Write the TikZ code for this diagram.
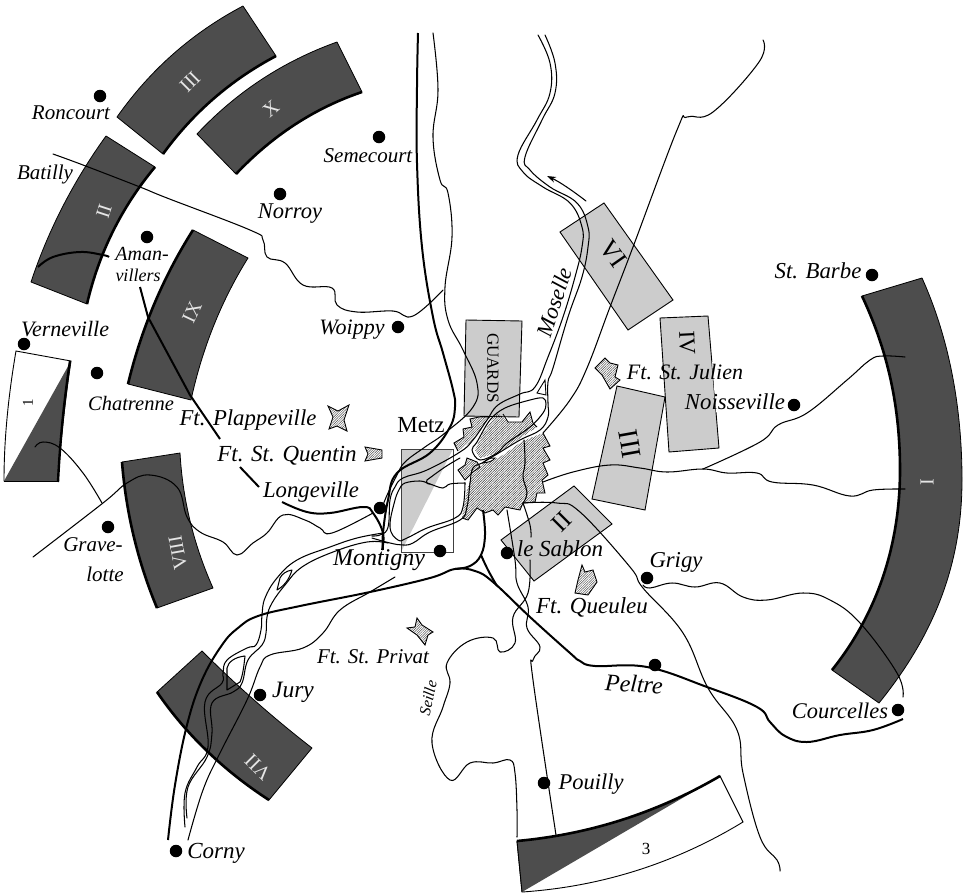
\documentclass[tikz,border=0pt]{standalone}
\usepackage{fontspec}
\setmainfont{Liberation Serif}
\usetikzlibrary{patterns.meta,arrows.meta,calc}
\definecolor{darkband}{HTML}{4D4D4D}
\definecolor{lightbox}{HTML}{CCCCCC}
\tikzset{
  band/.style={fill=darkband,draw=black,line width=.8pt,line join=round},
  bandedge/.style={draw=black,line width=2.6pt},
  lbox/.style={fill=lightbox,draw=black,line width=.9pt},
  hatch/.style={pattern={Lines[angle=45,distance=1.7pt,line width=.45pt]},pattern color=black!80},
  star/.style={pattern={Lines[angle=45,distance=1.7pt,line width=.45pt]},pattern color=black!70,draw=black,line width=.9pt,line join=miter},
  water/.style={draw=black,line width=1.05pt,line cap=round,line join=round},
  road/.style={draw=black,line width=2pt,line cap=butt,line join=round},
  town/.style={circle,fill=black,inner sep=0pt,minimum size=12.5pt},
  place/.style={font=\fontsize{#1}{#1}\selectfont\itshape,inner sep=0pt,text=black},
  place/.default=21,
  numw/.style={font=\fontsize{20}{20}\selectfont,text=white!90!black,inner sep=0pt},
  numb/.style={font=\fontsize{#1}{#1}\selectfont,text=black,inner sep=0pt},
}
\newcommand{\smoothline}[2][water]{\draw[#1] plot[smooth,tension=.68] coordinates {#2};}
% quadratic arc: start, control, end
\newcommand{\qc}[3]{.. controls ($(#1)!.6667!(#2)$) and ($(#3)!.6667!(#2)$) .. (#3)}
\begin{document}
\begin{tikzpicture}[x=1pt,y=-1pt]
\useasboundingbox (0,0) rectangle (970,895);
% dark corps bands
\path[band] (117,117) \qc{117,117}{167,46}{243,6} -- (276,56) \qc{276,56}{208,92}{163,154} -- cycle;
\draw[bandedge] (276,56) \qc{276,56}{208,92}{163,154};
\path[band] (197,134) \qc{197,134}{256,71}{337,42} -- (362,92) \qc{362,92}{291,116}{236,174} -- cycle;
\draw[bandedge] (362,92) \qc{362,92}{291,116}{236,174};
\path[band] (31,282) \qc{31,282}{57,204}{106,136} -- (155,167) \qc{155,167}{105,227}{87,304} -- cycle;
\draw[bandedge] (155,167) \qc{155,167}{105,227}{87,304};
\path[band] (193,230) -- (248,258) \qc{248,258}{208,322}{191,400} -- (128,384) \qc{128,384}{148,301}{193,230} -- cycle;
\draw[bandedge] (128,384) \qc{128,384}{148,301}{193,230};
\path[band] (122,462) -- (180,453) \qc{180,453}{184,523}{213,588} -- (157,608) \qc{157,608}{128,538}{122,462} -- cycle;
\draw[bandedge] (157,608) \qc{157,608}{128,538}{122,462};
\path[band] (157,692) -- (202,651) \qc{202,651}{254,703}{312,748} -- (269,800) \qc{269,800}{201,756}{157,692} -- cycle;
\draw[bandedge] (269,800) \qc{269,800}{201,756}{157,692};
\path[band] (922,278) .. controls (950,340) and (962,410) .. (962,480) .. controls (962,570) and (930,640) .. (879,703) -- (832,670) .. controls (880,610) and (900,540) .. (900,470) .. controls (900,400) and (885,345) .. (862,296) -- cycle;
\draw[bandedge] (832,670) .. controls (880,610) and (900,540) .. (900,470) .. controls (900,400) and (885,345) .. (862,296);
% legend bands
\path[fill=white,draw=black,line width=.9pt] (16,351) -- (71,361) \qc{71,361}{62,421}{58,481} -- (4,481) \qc{4,481}{4,421}{16,351} -- cycle;
\fill[darkband] (71,361) \qc{71,361}{62,421}{58,481} -- (4,481) -- cycle;
\draw[black,line width=.9pt] (4,481) -- (58,481);
\draw[bandedge,line width=2.4pt] (70,361) \qc{70,361}{61,421}{58,482};
\path[fill=white,draw=black,line width=.9pt] (517,841) \qc{517,841}{626,831}{720,776} -- (743,822) \qc{743,822}{641,884}{522,892} -- cycle;
\fill[darkband] (517,841) \qc{517,841}{626,831}{720,776} -- (522,892) -- cycle;
\draw[black,line width=.9pt] (517,841) -- (522,892);
\draw[bandedge] (517,841) \qc{517,841}{626,831}{720,776};
% light boxes
\path[lbox] (466,320) -- (522,321) -- (519,417) -- (464,416) -- cycle;
\path[lbox] (560,232) -- (604,203) -- (673,300) -- (628,330) -- cycle;
\path[lbox] (660,318) -- (708,316) -- (719,448) -- (669,452) -- cycle;
\path[lbox] (617,386) -- (665,397) -- (645,510) -- (592,499) -- cycle;
\path[lbox] (501,540) -- (574,486) -- (612,524) -- (534,581) -- cycle;
\fill[white] (712,362) -- (720,362) -- (720,412) -- (716,412) -- cycle;
% Metz box
\fill[lightbox] (401,449) -- (453,449) -- (401,552) -- cycle;
\draw[black!75,line width=1pt] (401,449) rectangle (453,552);
% city hatching
\path[hatch] (479,417) -- (470,419) -- (472,427) -- (463,429) -- (464,437) -- (454,443) -- (458,451) -- (472,441) -- (490,417) -- cycle;
\draw[black,line width=.9pt] (490,417) -- (479,417) -- (470,419) -- (472,427) -- (463,429) -- (464,437) -- (454,443) -- (458,451);
\path[hatch] (503,417) -- (508,422) -- (522,422) -- (530,412) -- (533,423) -- (537,427) -- (513,443) -- (497,453) -- (480,458) -- (475,450) -- (483,433) -- (497,413) -- cycle;
\draw[black,line width=.9pt] (503,414) -- (508,422) -- (522,422) -- (530,412) -- (533,423) -- (537,427);
\path[hatch] (543,433) -- (550,446) -- (543,448) -- (550,460) -- (543,463) -- (548,475) -- (542,480) -- (545,493) -- (537,493) -- (535,502) -- (523,503) -- (520,510) -- (510,508) -- (505,507) -- (498,515) -- (493,510) -- (485,513) -- (477,508) -- (468,520) -- (462,518) -- (467,490) -- (473,473) -- (483,464) -- (500,457) -- (523,441) -- cycle;
\draw[black,line width=.9pt] (543,433) -- (550,446) -- (543,448) -- (550,460) -- (543,463) -- (548,475) -- (542,480) -- (545,493) -- (537,493) -- (535,502) -- (523,503) -- (520,510) -- (510,508) -- (505,507) -- (498,515) -- (493,510) -- (485,513) -- (477,508) -- (468,520) -- (462,518);
\path[hatch,draw=black,line width=.9pt] (467,458) -- (477,462) -- (480,467) -- (473,472) -- (465,480) -- (458,470) -- (465,465) -- cycle;
\path[fill=white,draw=black,line width=.9pt] (483,463) .. controls (488,458) and (490,458) .. (495,458) .. controls (492,462) and (488,462) .. (483,463) -- cycle;
\path[fill=white,draw=black,line width=.9pt] (537,393) -- (545,380) -- (546,395) -- cycle;
\smoothline{(524,440)(525,463)(523,477)(527,493)(523,503)}
% Moselle, north
\smoothline{(538,35)(550,63)(550,93)(537,120)(518,155)(523,172)(543,187)(570,203)(582,227)(582,247)(575,277)(563,317)(548,357)(535,387)(520,394)(498,405)(487,420)(473,440)(460,452)(427,470)(403,478)(395,487)(390,500)(387,530)(372,536)}
\smoothline{(545,35)(555,63)(555,93)(542,120)(525,157)(530,170)(550,187)(577,203)(588,227)(588,247)(582,277)(568,317)(553,368)(548,382)(548,403)(548,417)(540,430)(520,440)(497,454)(482,463)(473,468)(470,483)(467,507)(460,520)(430,532)(413,543)(403,545)(390,543)(372,538)}
\draw[water] plot[smooth cycle,tension=.6] coordinates {(543,398)(530,400)(505,408)(490,420)(477,442)(472,450)(480,460)(497,453)(507,443)(530,427)(543,413)(546,404)};
\smoothline{(400,488)(405,483)(420,481)(430,484)(443,488)(450,484)(465,483)}
\smoothline{(427,480)(445,467)(460,458)}
\draw[water] (427,480) .. controls (426,483) and (427,484) .. (430,484);
\smoothline{(400,488)(395,500)(390,527)(398,540)(407,538)(427,528)(455,518)(463,507)(465,483)}
% Moselle, south
\smoothline{(383,533)(357,538)(330,547)(297,560)(277,578)(265,598)(262,615)(261,630)(256,645)(247,648)(227,660)(223,673)(222,683)(205,702)(208,747)(197,767)(185,793)(185,827)}
\smoothline{(388,543)(367,542)(333,552)(302,567)(285,585)(272,603)(267,617)(266,633)(262,645)(248,660)(242,683)(233,692)(212,703)(212,733)(207,757)(188,787)(187,818)}
\draw[water] (245,656) .. controls (235,657) and (228,662) .. (227,668) -- (227,690) -- (240,682) .. controls (243,675) and (244,665) .. (245,656) -- cycle;
\draw[water] (292,570) .. controls (286,571) and (282,574) .. (280,578) -- (277,590) .. controls (284,586) and (289,580) .. (292,570) -- cycle;
% thin streams
\smoothline{(53,154)(83,165)(140,187)(167,198)(250,230)(263,240)(267,257)(285,263)(303,285)(332,288)(337,305)(357,312)(393,311)(413,316)(443,290)}
\smoothline{(433,33)(438,90)(433,137)(440,180)(448,193)(452,237)(445,287)(448,320)(463,350)(477,383)(473,407)(445,433)(425,447)(405,462)(397,475)(388,493)(383,505)}
\smoothline{(373,513)(332,533)(320,528)(305,520)(283,515)(267,533)(253,543)(237,555)(223,542)(200,532)(187,517)(177,487)(150,475)(127,483)(103,503)(33,557)}
\smoothline{(102,503)(83,473)(60,448)(43,442)(35,447)}
\smoothline{(395,577)(370,592)(340,610)(323,633)(303,648)(270,655)(260,667)(247,700)(220,753)(203,790)(188,840)}
\smoothline{(763,40)(759,62)(713,112)(687,117)(677,130)(633,247)(610,307)(587,368)(570,400)(543,433)}
\smoothline{(905,357)(883,356)(870,360)(847,380)(807,413)(778,425)(760,442)(703,469)}
\smoothline{(905,489)(873,490)(850,496)(813,485)(772,482)(757,473)(727,473)(703,469)(667,472)(640,468)(610,465)(573,472)(543,482)}
\smoothline{(903,697)(897,673)(860,623)(830,600)(803,593)(767,600)(743,597)(720,583)(695,587)(672,583)(650,588)(643,585)}
\smoothline{(523,503)(557,503)(580,512)(630,567)(643,588)(683,633)(708,688)(737,730)(743,773)(760,837)(777,860)(780,871)}
\smoothline{(507,510)(515,560)(517,583)(528,607)(527,628)(540,647)(533,660)(533,680)(556,835)}
\smoothline{(530,560)(528,593)(513,617)(515,643)(500,652)(493,638)(467,642)(447,663)(450,683)(443,707)(432,743)(450,780)(470,763)(493,763)(510,760)(515,773)(517,810)(517,837)}
\smoothline{(523,503)(530,525)(531,537)}
% roads
\smoothline[road]{(418,33)(417,87)(417,163)(422,247)(433,317)(443,353)(453,390)(455,407)(450,427)(430,453)(397,473)(388,500)(383,533)(383,550)}
\smoothline[road]{(168,840)(175,785)(187,725)(202,680)(222,645)(238,628)(258,616)(300,606)(370,592)(430,578)(455,569)(475,571)(493,582)(530,617)(570,653)(580,661)(595,666)(647,667)(707,687)(757,707)(770,722)(785,736)(807,742)(840,735)(873,730)(903,719)}
\smoothline[road]{(483,510)(485,535)(481,555)(470,566)(455,569)}
\smoothline[road]{(481,555)(488,570)(497,586)}
\smoothline[road]{(282,502)(307,512)(330,513)(363,507)(373,513)(383,533)(382,550)}
\draw[road] (240,467) -- (259,487);
\draw[road] (140,287) -- (148,317) -- (190,395) -- (220,439);
\smoothline[road]{(38,267)(53,257)(80,252)(103,255)(109,257)}
% Moselle arrow
\draw[water,-{Stealth[length=9pt,width=6pt]}] (586,201) .. controls (573,191) and (560,182) .. (547,176);
% forts
\path[star] (595,368) -- (605,358) -- (610,363) -- (618,365) -- (615,377) -- (620,380) -- (610,389) -- (602,375) -- cycle;
\path[star] (328,406) -- (338,411) -- (349,405) -- (344,420) -- (347,431) -- (337,426) -- (329,429) -- (333,417) -- cycle;
\path[star] (365,447) -- (382,450) -- (382,458) -- (365,461) -- (368,454) -- cycle;
\path[star] (582,565) -- (585,572) -- (593,570) -- (597,582) -- (588,595) -- (575,593) -- (578,580) -- cycle;
\path[star] (417,618) -- (422,625) -- (433,632) -- (428,635) -- (425,645) -- (417,635) -- (407,628) -- (415,627) -- cycle;
% towns
\node[town] (dRoncourt) at (100,96) {};
\node[town] (dSemecourt) at (379,137) {};
\node[town] (dNorroy) at (280,194) {};
\node[town] (dAman) at (147,237) {};
\node[town] (dVerneville) at (24,344) {};
\node[town] (dChatrenne) at (97,373) {};
\node[town] (dGravelotte) at (108,527) {};
\node[town] (dWoippy) at (398,327) {};
\node[town] (dLongeville) at (380,508) {};
\node[town] (dMontigny) at (440,551) {};
\node[town] (dSablon) at (507,553) {};
\node[town] (dGrigy) at (647,578) {};
\node[town] (dJury) at (260,695) {};
\node[town] (dPeltre) at (655,665) {};
\node[town] (dCourcelles) at (898,710) {};
\node[town] (dCorny) at (176,851) {};
\node[town] (dPouilly) at (544,783) {};
\node[town] (dBarbe) at (872,275) {};
\node[town] (dNoisseville) at (794,405) {};
% place names
\node[place] (tRoncourt) at (71,113) {Roncourt};
\node[place] (tBatilly) at (45,174) {Batilly};
\node[place] (tSemecourt) at (368,156) {Semecourt};
\node[place=22.5] (tNorroy) at (290,214) {Norroy};
\node[place=20] (tAman) at (142,254) {Aman-};
\node[place=18] (tVillers) at (138,275) {villers};
\node[place=22] (tVerneville) at (65,329) {Verneville};
\node[place=20.5] (tChatrenne) at (131,403) {Chatrenne};
\node[place=22] (tWoippy) at (352,330) {Woippy};
\node[place=22.7] (tPlappeville) at (248,420) {Ft. Plappeville};
\node[font=\fontsize{23}{23}\selectfont,inner sep=0pt] (tMetz) at (421,425) {Metz};
\node[place=23] (tQuentin) at (287,456) {Ft. St. Quentin};
\node[place=22.7] (tLongeville) at (311,492) {Longeville};
\node[place] (tGrave) at (93,545) {Grave-};
\node[place] (tLotte) at (105,574) {lotte};
\node[place=24] (tMontigny) at (379,560) {Montigny};
\node[place=23.5] (tJury) at (293,692) {Jury};
\node[place] (tPrivat) at (373,657) {Ft. St. Privat};
\node[place=16,rotate=78] (tSeille) at (428,698) {Seille};
\node[place=23] (tSablon) at (560,549) {le Sablon};
\node[place=23] (tQueuleu) at (592,607) {Ft. Queuleu};
\node[place=22.7] (tGrigy) at (676,562) {Grigy};
\node[place=24,rotate=-4] (tPeltre) at (634,684) {Peltre};
\node[place=22.4] (tCourcelles) at (840,711) {Courcelles};
\node[place=22.5] (tPouilly) at (591,784) {Pouilly};
\node[place=23] (tCorny) at (216,853) {Corny};
\node[place=22.8] (tBarbe) at (818,271) {St. Barbe};
\node[place=22] (tJulien) at (685,372) {Ft. St. Julien};
\node[place=22.8] (tNoisseville) at (735,402) {Noisseville};
\node[place=22.5,rotate=72] (tMoselle) at (554,302) {Moselle};
% unit numbers
\node[numw,rotate=45] (nIII) at (190,82) {III};
\node[numw,rotate=40] (nX) at (271,109) {X};
\node[numw,rotate=72] (nII) at (104,211) {II};
\node[numw,rotate=65] (nIX) at (192,312) {IX};
\node[numw,rotate=100] (nVIII) at (178,553) {VIII};
\node[numw,rotate=135] (nVII) at (258,767) {VII};
\node[numw,rotate=90] (nI) at (927,482) {I};
\node[font=\fontsize{15}{15}\selectfont,inner sep=0pt,rotate=90] (nOne) at (28,403) {1};
\node[font=\fontsize{17}{17}\selectfont,inner sep=0pt] (nThree) at (646,849) {3};
\node[font=\fontsize{17}{17}\selectfont,inner sep=0pt,rotate=-90] (nGuards) at (493,368) {GUARDS};
\node[numb=26,rotate=-55] (nVI) at (613,254) {VI};
\node[numb=23,rotate=-87] (nIV) at (687,343) {IV};
\node[numb=28,rotate=-80] (nIIIb) at (630,444) {III};
\node[numb=25,rotate=45] (nIIb) at (562,522) {II};
\end{tikzpicture}
\end{document}
